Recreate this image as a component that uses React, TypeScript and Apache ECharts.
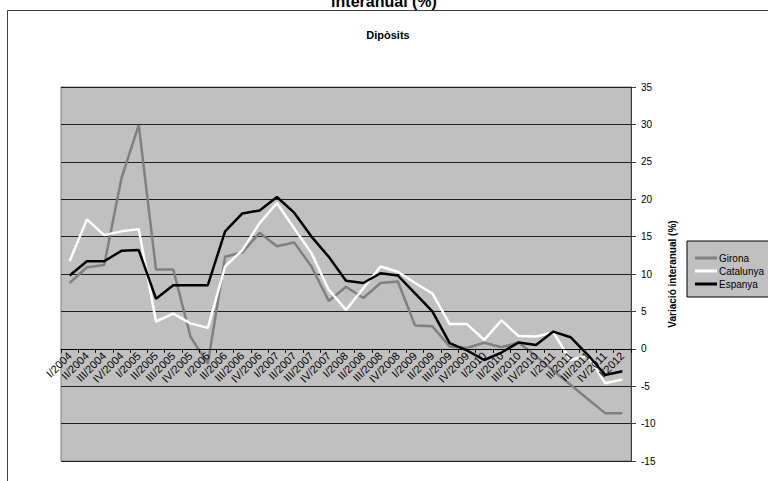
import React, { useEffect, useRef } from "react";
import * as echarts from "echarts";

const categories = [
  "I/2004", "II/2004", "III/2004", "IV/2004",
  "I/2005", "II/2005", "III/2005", "IV/2005",
  "I/2006", "II/2006", "III/2006", "IV/2006",
  "I/2007", "II/2007", "III/2007", "IV/2007",
  "I/2008", "II/2008", "III/2008", "IV/2008",
  "I/2009", "II/2009", "III/2009", "IV/2009",
  "I/2010", "II/2010", "III/2010", "IV/2010",
  "I/2011", "II/2011", "III/2011", "IV/2011",
  "I/2012",
];

const girona = [
  8.8, 10.9, 11.2, 22.8, 29.9, 10.6, 10.6, 1.6, -2.0, 12.3, 12.9, 15.5, 13.7,
  14.2, 11.0, 6.4, 8.3, 6.8, 8.8, 9.0, 3.1, 3.0, 0.3, 0.1, 0.8, 0.2, 0.85, -1.0,
  -2.9, -4.8, -6.7, -8.6, -8.6,
];

const catalunya = [
  11.7, 17.3, 15.2, 15.7, 16.0, 3.65, 4.7, 3.4, 2.8, 11.0, 13.2, 16.8, 19.5,
  16.1, 12.8, 7.9, 5.2, 8.1, 11.0, 10.3, 8.8, 7.4, 3.3, 3.3, 1.2, 3.8, 1.7,
  1.65, 2.2, -1.5, -0.9, -4.6, -4.1,
];

const espanya = [
  9.8, 11.7, 11.7, 13.1, 13.2, 6.7, 8.5, 8.5, 8.5, 15.7, 18.1, 18.5, 20.3, 18.2,
  15.0, 12.3, 9.1, 8.8, 10.1, 9.8, 7.4, 5.0, 0.76, -0.2, -1.5, -0.5, 0.85, 0.5,
  2.3, 1.55, -0.8, -3.5, -3.0,
];

const yMin = -15;
const yMax = 35;

const FONT = "'Liberation Sans', Arial, sans-serif";

export default function App() {
  const ref = useRef<HTMLDivElement>(null);

  useEffect(() => {
    if (!ref.current) return;
    const chart = echarts.init(ref.current, null, { renderer: "svg" });
    const gridTop = 87;
    const gridBottom = 20;
    const plotH = 481 - gridTop - gridBottom;
    const zeroOffset = -(plotH * (0 - yMin)) / (yMax - yMin);
    const mk = (name: string, data: number[], color: string) => ({
      name,
      type: "line",
      data,
      symbol: "none",
      showSymbol: false,
      lineStyle: { color, width: 2.5 },
      itemStyle: { color },
      emphasis: { disabled: true },
    });
    chart.setOption({
      animation: false,
      textStyle: { fontFamily: FONT },
      graphic: [
        {
          type: "rect",
          shape: { x: 7.5, y: 10.5, width: 800, height: 500 },
          style: { fill: "none", stroke: "#404040", lineWidth: 1 },
          silent: true,
        },
        {
          type: "text",
          x: 384,
          y: 9,
          style: {
            text: "interanual (%)",
            font: `bold 16px ${FONT}`,
            fill: "#000",
            textAlign: "center",
            textVerticalAlign: "bottom",
          },
        },
        {
          type: "text",
          x: 388,
          y: 35,
          style: {
            text: "Dipòsits",
            font: `bold 11px ${FONT}`,
            fill: "#000",
            textAlign: "center",
            textVerticalAlign: "middle",
          },
        },
      ],
      legend: {
        orient: "vertical",
        left: 687,
        top: 241,
        backgroundColor: "#c0c0c0",
        borderColor: "#000",
        borderWidth: 1,
        borderRadius: 0,
        padding: [12, 5, 8, 8],
        itemGap: 3,
        itemWidth: 22,
        itemHeight: 3,
        icon: "rect",
        textStyle: { fontSize: 10, color: "#000", fontFamily: FONT, padding: [0, 0, 0, -3] },
        data: ["Girona", "Catalunya", "Espanya"],
      },
      grid: {
        left: 61,
        right: 137,
        top: gridTop,
        bottom: gridBottom,
        show: true,
        backgroundColor: "#c0c0c0",
        borderColor: "#808080",
        borderWidth: 1,
      },
      xAxis: {
        type: "category",
        data: categories,
        boundaryGap: true,
        offset: zeroOffset,
        z: 5,
        axisLine: { onZero: false, lineStyle: { color: "#000", width: 1 } },
        axisTick: { show: true, length: 4, lineStyle: { color: "#000" } },
        axisLabel: {
          interval: 0,
          rotate: 45,
          fontSize: 11,
          color: "#000",
          fontFamily: FONT,
          margin: 5,
        },
        splitLine: { show: false },
      },
      yAxis: {
        type: "value",
        position: "right",
        min: yMin,
        max: yMax,
        interval: 5,
        name: "Variació interanual (%)",
        nameLocation: "middle",
        nameRotate: 90,
        nameGap: 36,
        nameTextStyle: { fontSize: 10, fontWeight: "bold", color: "#000", fontFamily: FONT },
        axisLine: { show: true, lineStyle: { color: "#404040" } },
        axisTick: { show: true, length: 5, lineStyle: { color: "#404040" } },
        axisLabel: { fontSize: 10, color: "#000", margin: 10, fontFamily: FONT },
        splitLine: { show: true, lineStyle: { color: "#202020", width: 1 } },
      },
      series: [
        mk("Girona", girona, "#808080"),
        mk("Catalunya", catalunya, "#ffffff"),
        mk("Espanya", espanya, "#000000"),
      ],
    });
    return () => chart.dispose();
  }, []);

  return (
    <div
      ref={ref}
      style={{ position: "fixed", left: 0, top: 0, width: 768, height: 481, background: "#fff" }}
    />
  );
}
